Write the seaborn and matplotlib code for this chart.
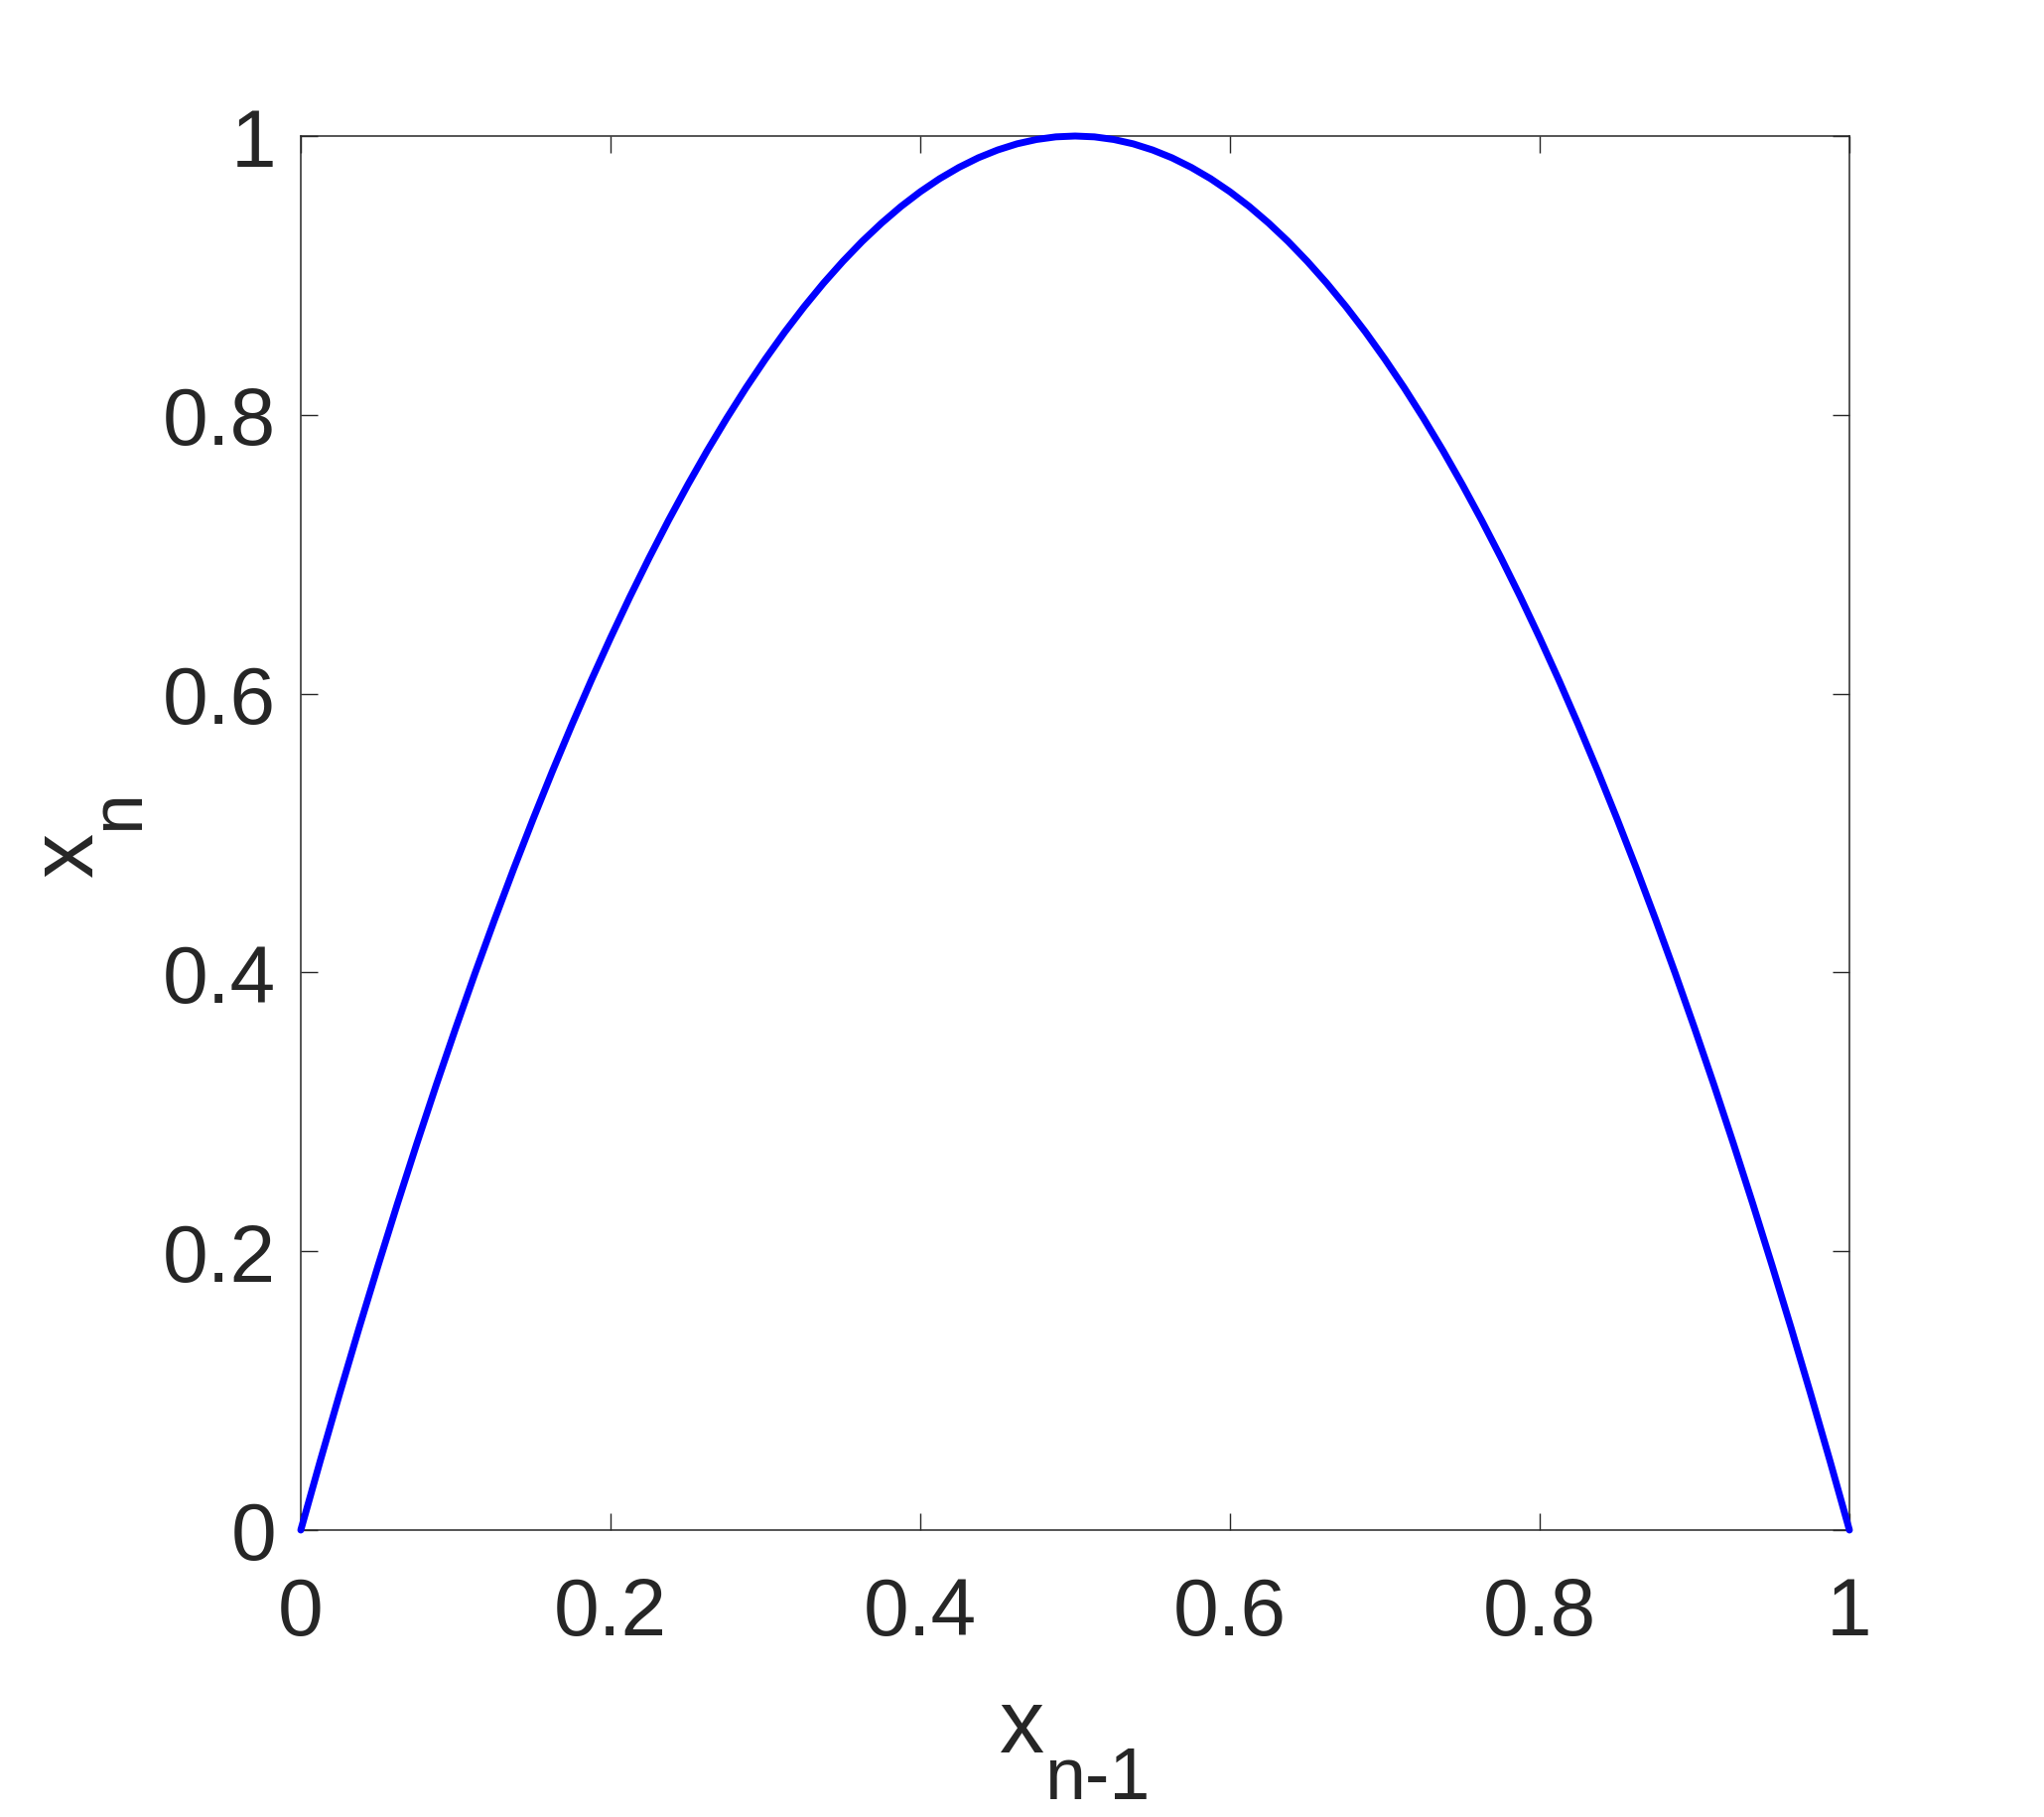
import matplotlib
matplotlib.use("Agg")
import matplotlib.pyplot as plt
import seaborn as sns
import pandas as pd

# values
x_prev = [0.0, 0.0125, 0.025, 0.0375, 0.05, 0.0625, 0.075, 0.0875, 0.1, 0.1125,
          0.125, 0.1375, 0.15, 0.1625, 0.175, 0.1875, 0.2, 0.2125, 0.225, 0.2375,
          0.25, 0.2625, 0.275, 0.2875, 0.3, 0.3125, 0.325, 0.3375, 0.35, 0.3625,
          0.375, 0.3875, 0.4, 0.4125, 0.425, 0.4375, 0.45, 0.4625, 0.475, 0.4875,
          0.5, 0.5125, 0.525, 0.5375, 0.55, 0.5625, 0.575, 0.5875, 0.6, 0.6125,
          0.625, 0.6375, 0.65, 0.6625, 0.675, 0.6875, 0.7, 0.7125, 0.725, 0.7375,
          0.75, 0.7625, 0.775, 0.7875, 0.8, 0.8125, 0.825, 0.8375, 0.85, 0.8625,
          0.875, 0.8875, 0.9, 0.9125, 0.925, 0.9375, 0.95, 0.9625, 0.975, 0.9875,
          1.0]
x_next = [0.0, 0.0494, 0.0975, 0.1444, 0.19, 0.2344, 0.2775, 0.3194, 0.36, 0.3994,
          0.4375, 0.4744, 0.51, 0.5444, 0.5775, 0.6094, 0.64, 0.6694, 0.6975, 0.7244,
          0.75, 0.7744, 0.7975, 0.8194, 0.84, 0.8594, 0.8775, 0.8944, 0.91, 0.9244,
          0.9375, 0.9494, 0.96, 0.9694, 0.9775, 0.9844, 0.99, 0.9944, 0.9975, 0.9994,
          1.0, 0.9994, 0.9975, 0.9944, 0.99, 0.9844, 0.9775, 0.9694, 0.96, 0.9494,
          0.9375, 0.9244, 0.91, 0.8944, 0.8775, 0.8594, 0.84, 0.8194, 0.7975, 0.7744,
          0.75, 0.7244, 0.6975, 0.6694, 0.64, 0.6094, 0.5775, 0.5444, 0.51, 0.4744,
          0.4375, 0.3994, 0.36, 0.3194, 0.2775, 0.2344, 0.19, 0.1444, 0.0975, 0.0494,
          0.0]
x_ticks = [0, 0.2, 0.4, 0.6, 0.8, 1]
x_tick_labels = ["0", "0.2", "0.4", "0.6", "0.8", "1"]
y_ticks = [0, 0.2, 0.4, 0.6, 0.8, 1]
y_tick_labels = ["0", "0.2", "0.4", "0.6", "0.8", "1"]

df = pd.DataFrame({"x_prev": x_prev, "x_next": x_next})

sns.set_theme(style="white")
plt.rcParams["font.family"] = ["Liberation Sans", "DejaVu Sans"]

W, H = 2059, 1831
fig = plt.figure(figsize=(W / 100, H / 100), dpi=100)
ax = fig.add_axes([303 / W, 1 - 1542 / H, 1560 / W, 1404 / H])

sns.lineplot(data=df, x="x_prev", y="x_next", ax=ax, color=(0, 0, 1),
             linewidth=5.0, sort=False, estimator=None, zorder=3)
ax.lines[0].set_solid_joinstyle("round")
ax.lines[0].set_clip_on(False)

ax.set_xlim(0, 1)
ax.set_ylim(0, 1)
ax.set_xticks(x_ticks)
ax.set_xticklabels(x_tick_labels)
ax.set_yticks(y_ticks)
ax.set_yticklabels(y_tick_labels)
ax.set_xlabel("")
ax.set_ylabel("")

tc = "#262626"
for s in ax.spines.values():
    s.set_visible(True)
    s.set_color(tc)
    s.set_linewidth(1.1)
ax.tick_params(axis="both", which="major", direction="in", length=12, width=1.0,
               color=tc, labelcolor=tc, labelsize=59,
               top=True, right=True, bottom=True, left=True)
ax.tick_params(axis="y", pad=18)
ax.tick_params(axis="x", pad=33)

# x label: x_{n-1}
fig.text(1030 / W, 1 - 1765 / H, "x", fontsize=65, color=tc,
         ha="center", va="baseline")
fig.text(1052 / W, 1 - 1812 / H, "n-1", fontsize=53, color=tc,
         ha="left", va="baseline")
# y label: x_n (rotated)
fig.text(93 / W, 1 - 860 / H, "x", fontsize=65, color=tc, rotation=90,
         rotation_mode="anchor", ha="center", va="baseline")
fig.text(139 / W, 1 - 836 / H, "n", fontsize=53, color=tc, rotation=90,
         rotation_mode="anchor", ha="left", va="baseline")

fig.savefig("out.png", dpi=100, facecolor="white")
